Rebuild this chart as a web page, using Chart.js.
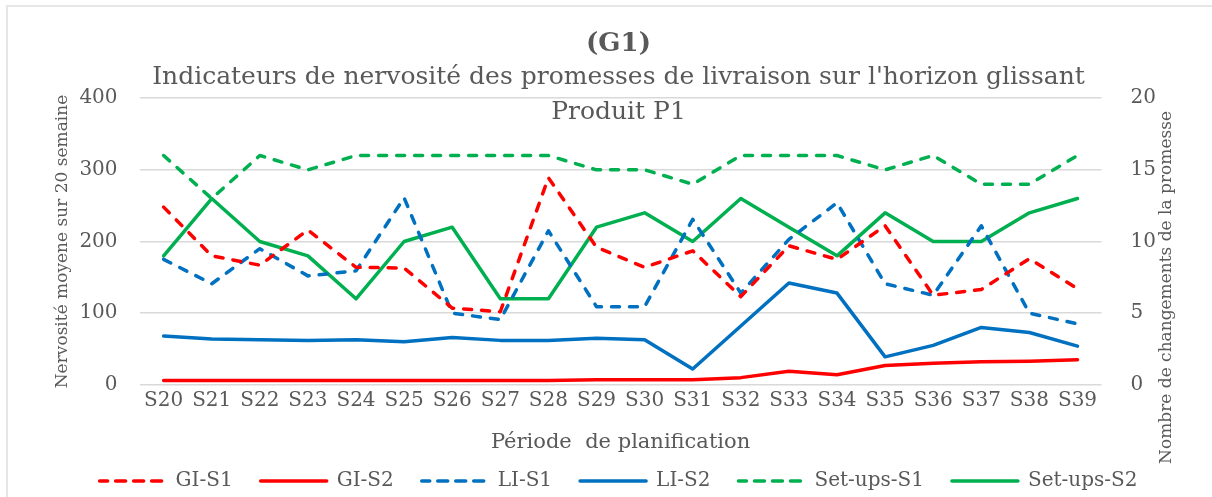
<!DOCTYPE html>
<html>
<head>
<meta charset="utf-8">
<script src="https://cdn.jsdelivr.net/npm/chart.js@4.4.0/dist/chart.umd.min.js"></script>
<style>
  html, body { margin: 0; padding: 0; background: #ffffff; }
  #cadre { position: absolute; left: 6px; top: 5px; width: 1206px; height: 492px;
           border-left: 2px solid #e6e6e6; border-top: 2px solid #e6e6e6; }
  #zone { position: absolute; left: 0; top: 0; width: 1212px; height: 497px; }
</style>
</head>
<body>
<div id="cadre"></div>
<div id="zone"><canvas id="graphG1"></canvas></div>
<script>
const semaines = ['S20', 'S21', 'S22', 'S23', 'S24', 'S25', 'S26', 'S27', 'S28', 'S29',
                  'S30', 'S31', 'S32', 'S33', 'S34', 'S35', 'S36', 'S37', 'S38', 'S39'];

// nervosité (axe de gauche)
const giS1 = [248, 180, 167, 216, 164, 163, 107, 102, 289, 192, 164, 187, 123, 194, 175, 222, 125, 133, 176, 134];
const giS2 = [6, 6, 6, 6, 6, 6, 6, 6, 6, 7, 7, 7, 10, 19, 14, 27, 30, 32, 33, 35];
const liS1 = [175, 141, 190, 152, 159, 261, 100, 91, 215, 109, 109, 231, 128, 203, 254, 141, 125, 222, 100, 85];
const liS2 = [68, 64, 63, 62, 63, 60, 66, 62, 62, 65, 63, 22, 82, 142, 128, 39, 55, 80, 73, 54];

// nombre de changements (axe de droite)
const setupsS1 = [16, 13, 16, 15, 16, 16, 16, 16, 16, 15, 15, 14, 16, 16, 16, 15, 16, 14, 14, 16];
const setupsS2 = [9, 13, 10, 9, 6, 10, 11, 6, 6, 11, 12, 10, 13, 11, 9, 12, 10, 10, 12, 13];

const ticksGauche = [0, 100, 200, 300, 400];
const ticksDroite = [0, 5, 10, 15, 20];

const rouge = '#FF0000';
const bleu = '#0070C0';
const vert = '#00B050';
const gris = '#595959';
const police = "'DejaVu Serif', serif";
const tirets = [8, 10];

function serie(label, data, couleur, pointille, axe) {
    return {
        label: label,
        data: data,
        borderColor: couleur,
        backgroundColor: couleur,
        borderWidth: 3.5,
        borderDash: pointille ? tirets : [],
        borderCapStyle: 'round',
        borderJoinStyle: 'round',
        pointRadius: 0,
        tension: 0,
        fill: false,
        yAxisID: axe
    };
}

// titre de l'axe de droite, écrit de bas en haut
const titreDroite = {
    id: 'titreDroite',
    afterDraw(chart) {
        const ctx = chart.ctx;
        const area = chart.chartArea;
        ctx.save();
        ctx.translate(1167, (area.top + area.bottom) / 2 + 46);
        ctx.rotate(-Math.PI / 2);
        ctx.font = "17px 'DejaVu Serif', serif";
        ctx.fillStyle = gris;
        ctx.textAlign = 'center';
        ctx.textBaseline = 'middle';
        ctx.fillText('Nombre de changements de la promesse', 0, 0);
        ctx.restore();
    }
};

const configG1 = {
    type: 'line',
    data: {
        labels: semaines,
        datasets: [
            serie('GI-S1', giS1, rouge, true, 'y'),
            serie('GI-S2', giS2, rouge, false, 'y'),
            serie('LI-S1', liS1, bleu, true, 'y'),
            serie('LI-S2', liS2, bleu, false, 'y'),
            serie('Set-ups-S1', setupsS1, vert, true, 'y1'),
            serie('Set-ups-S2', setupsS2, vert, false, 'y1')
        ]
    },
    plugins: [titreDroite],
    options: {
        responsive: true,
        maintainAspectRatio: false,
        animation: false,
        layout: {
            padding: { left: 52, right: 27, top: 0, bottom: -4 }
        },
        scales: {
            x: {
                offset: true,
                grid: { display: false, drawTicks: false },
                border: { display: false },
                ticks: { color: gris, font: { family: police, size: 20 }, padding: 4, maxRotation: 0, autoSkip: false },
                title: {
                    display: true,
                    text: 'Période  de planification',
                    color: gris,
                    font: { family: police, size: 21 },
                    padding: { top: 13, bottom: -12 }
                }
            },
            y: {
                position: 'left',
                min: 0,
                max: 400,
                afterBuildTicks(axis) { axis.ticks = ticksGauche.map(v => ({ value: v })); },
                grid: { color: '#d9d9d9', lineWidth: 1.5, drawTicks: false },
                border: { display: false },
                ticks: { color: gris, font: { family: police, size: 20 }, padding: 22 },
                title: {
                    display: true,
                    text: 'Nervosité moyene sur 20 semaine',
                    color: gris,
                    font: { family: police, size: 17 },
                    padding: { top: 0, bottom: -15 }
                }
            },
            y1: {
                position: 'right',
                min: 0,
                max: 20,
                afterBuildTicks(axis) { axis.ticks = ticksDroite.map(v => ({ value: v })); },
                grid: { display: false, drawTicks: false },
                border: { display: false },
                ticks: { color: gris, font: { family: police, size: 20 }, padding: 29 }
            }
        },
        plugins: {
            legend: {
                position: 'bottom',
                labels: {
                    color: gris,
                    font: { family: police, size: 20 },
                    boxWidth: 66,
                    boxHeight: 0,
                    padding: 28
                }
            },
            title: {
                display: true,
                text: '(G1)',
                color: gris,
                font: { family: police, size: 26, weight: 'bold' },
                padding: { top: 29, bottom: 0 }
            },
            subtitle: {
                display: true,
                text: ["Indicateurs de nervosité des promesses de livraison sur l'horizon glissant", 'Produit P1'],
                color: gris,
                font: { family: police, size: 25, lineHeight: 1.4 },
                padding: { top: 0, bottom: -32 }
            },
            tooltip: { enabled: false }
        }
    }
};

const graphG1 = new Chart(document.getElementById('graphG1'), configG1);
</script>
</body>
</html>
